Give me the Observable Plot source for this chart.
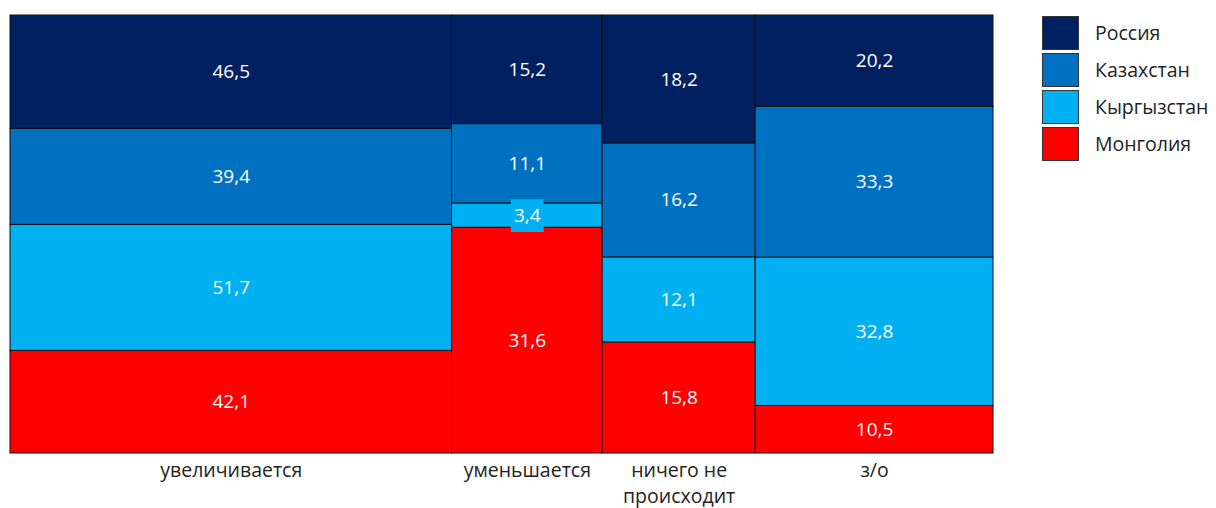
<!DOCTYPE html>
<html><head><meta charset="utf-8">
<script src="https://cdn.jsdelivr.net/npm/d3@7"></script>
<script src="https://cdn.jsdelivr.net/npm/@observablehq/plot@0.6"></script>
<style>
body{margin:0;background:#fff;font-family:"Open Sans",sans-serif;}
#wrap{position:relative;width:1216px;height:508px;overflow:hidden;}
#legend{position:absolute;left:1042px;top:14px;}
.li{display:flex;align-items:center;height:37px;}
.sw{width:37px;height:34px;border:1px solid #333;box-sizing:border-box;margin-right:16px;}
.lt{font-size:19.5px;color:#222;white-space:nowrap;}
</style></head>
<body><div id="wrap"><div id="chart"></div><div id="legend"></div></div>
<script>
const categories = ["увеличивается", "уменьшается", "ничего не\nпроисходит", "з/о"];
const series = ["Монголия", "Кыргызстан", "Казахстан", "Россия"]; // bottom to top
const colors = ["#FF0000", "#00B0F0", "#0070C0", "#002060"];
const values = {
  "Монголия":   [42.1, 31.6, 15.8, 10.5],
  "Кыргызстан": [51.7, 3.4, 12.1, 32.8],
  "Казахстан":  [39.4, 11.1, 16.2, 33.3],
  "Россия":     [46.5, 15.2, 18.2, 20.2]
};

const colSums = categories.map((c, i) => d3.sum(series, s => values[s][i]));
const total = d3.sum(colSums);
const rects = [];
let x0 = 0;
categories.forEach((c, i) => {
  let y0 = 0;
  series.forEach((s, j) => {
    const v = values[s][i];
    const h = v / colSums[i];
    rects.push({cat: c, series: s, value: v, x1: x0, x2: x0 + colSums[i], y1: y0, y2: y0 + h, color: colors[j]});
    y0 += h;
  });
  x0 += colSums[i];
});
const cats = categories.map((c, i) => ({cat: c, x: d3.sum(colSums.slice(0, i)) + colSums[i] / 2}));
const fmt = v => v.toFixed(1).replace(".", ",");

const plot = Plot.plot({
  width: 1216, height: 508,
  marginLeft: 10, marginRight: 223, marginTop: 15, marginBottom: 55,
  x: {domain: [0, total], axis: null},
  y: {domain: [0, 1], axis: null},
  style: {fontFamily: "Open Sans, sans-serif"},
  marks: [
    Plot.rect(rects, {x1: "x1", x2: "x2", y1: "y1", y2: "y2", fill: "color", stroke: "#111", strokeWidth: 1}),
    Plot.dot(rects, {x: d => (d.x1 + d.x2) / 2, y: d => (d.y1 + d.y2) / 2, symbol: "square", r: 18.5, fill: "color", stroke: null}),
    Plot.text(rects, {x: d => (d.x1 + d.x2) / 2, y: d => (d.y1 + d.y2) / 2, text: d => fmt(d.value), fill: "white", fontSize: 19}),
    Plot.text(cats, {x: "x", y: 0, text: "cat", dy: 5, lineAnchor: "top", lineHeight: 1.33, fontSize: 19.5, fill: "#222"})
  ]
});
document.getElementById("chart").appendChild(plot);
const lg = document.getElementById("legend");
[...series].reverse().forEach((s) => {
  const j = series.indexOf(s);
  const row = document.createElement("div"); row.className = "li";
  row.innerHTML = `<div class="sw" style="background:${colors[j]}"></div><span class="lt">${s}</span>`;
  lg.appendChild(row);
});
</script></body></html>
